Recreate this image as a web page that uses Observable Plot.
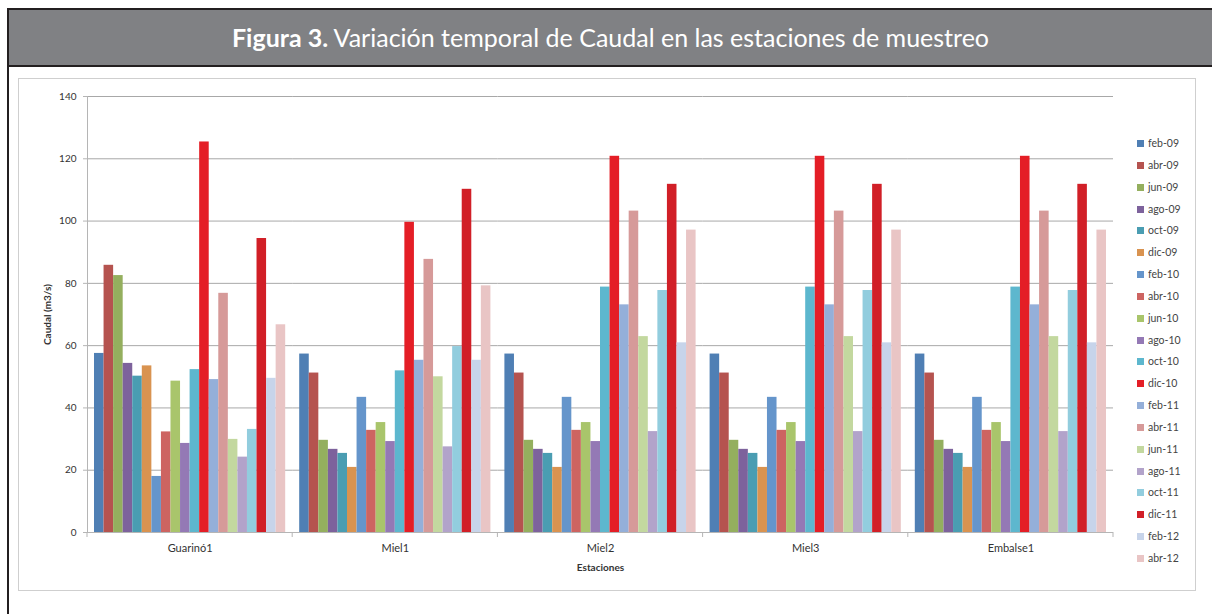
<!DOCTYPE html>
<html>
<head>
<meta charset="utf-8">
<script src="https://cdn.jsdelivr.net/npm/d3@7"></script>
<script src="https://cdn.jsdelivr.net/npm/@observablehq/plot@0.6"></script>
<style>
  body { margin: 0; background: #fff; }
  #page { position: relative; width: 1212px; height: 614px; overflow: hidden; background: #fff; font-family: Lato, "Open Sans", sans-serif; }
  #topline { position: absolute; left: 7px; top: 8px; right: 0; height: 2px; background: #231f20; }
  #leftline { position: absolute; left: 7px; top: 8px; width: 2px; bottom: 0; background: #231f20; }
  #titlebar { position: absolute; left: 9px; top: 10px; right: 0; height: 55px; background: #808184; border-bottom: 2px solid #231f20; color: #fff; font-size: 25px; text-align: center; line-height: 55px; font-family: Lato, "Open Sans", sans-serif; }
  #titlebar b { font-weight: 700; }
  #box { position: absolute; left: 18px; top: 78px; width: 1178px; height: 513px; border: 1px solid #cfcfcf; box-sizing: border-box; }
  #chart { position: absolute; left: 0; top: 78px; }
  #legend { position: absolute; left: 0; top: 0; }
  .li { position: absolute; left: 1137px; font-size: 10.5px; color: #444; white-space: nowrap; line-height: 12px; }
  .li span.sw { display: inline-block; width: 7px; height: 7px; margin-right: 4px; vertical-align: 0px; }
  #chart [aria-label="y-axis label"], #chart [aria-label="fx-axis label"] { font-weight: bold; }
  #chart [aria-label="fx-axis tick label"] { font-size: 11px; }
</style>
</head>
<body>
<div id="page">
  <div id="titlebar"><b>Figura 3.</b> Variación temporal de Caudal en las estaciones de muestreo</div>
  <div id="topline"></div>
  <div id="leftline"></div>
  <div id="box"></div>
  <div id="chart"></div>
  <div id="legend"></div>
</div>
<script>
const stations = ["Guarinó1", "Miel1", "Miel2", "Miel3", "Embalse1"];
const months = ["feb-09","abr-09","jun-09","ago-09","oct-09","dic-09","feb-10","abr-10","jun-10","ago-10","oct-10","dic-10","feb-11","abr-11","jun-11","ago-11","oct-11","dic-11","feb-12","abr-12"];
const colors = ["#4F7FB4","#B5534F","#94AF5E","#7D629C","#4A9DB2","#D99350","#6595CB","#CD6461","#A9C56B","#9479B5","#5DB7CE","#E41E26","#94AFD9","#D69A99","#C3D89F","#B2A3CA","#92CDDE","#D11F27","#C7D4EA","#E9C5C5"];
const guarino1 = [57.5, 85.8, 82.5, 54.3, 50.2, 53.5, 18.0, 32.3, 48.6, 28.6, 52.3, 125.4, 49.1, 76.8, 29.9, 24.2, 33.1, 94.4, 49.5, 66.7];
const miel1    = [57.3, 51.2, 29.6, 26.7, 25.4, 20.9, 43.4, 32.8, 35.3, 29.2, 51.9, 99.6, 55.3, 87.7, 50.0, 27.5, 59.7, 110.2, 55.3, 79.2];
const miel2    = [57.3, 51.2, 29.6, 26.7, 25.4, 20.9, 43.4, 32.8, 35.3, 29.2, 78.8, 120.8, 73.1, 103.2, 62.9, 32.4, 77.7, 111.8, 60.9, 97.1];
const miel3    = [57.3, 51.2, 29.6, 26.7, 25.4, 20.9, 43.4, 32.8, 35.3, 29.2, 78.8, 120.8, 73.1, 103.2, 62.9, 32.4, 77.7, 111.8, 60.9, 97.1];
const embalse1 = [57.3, 51.2, 29.6, 26.7, 25.4, 20.9, 43.4, 32.8, 35.3, 29.2, 78.8, 120.8, 73.1, 103.2, 62.9, 32.4, 77.7, 111.8, 60.9, 97.1];
const yTicks = [0, 20, 40, 60, 80, 100, 120, 140];

const series = [guarino1, miel1, miel2, miel3, embalse1];
const data = [];
stations.forEach((s, i) => months.forEach((m, j) => data.push({station: s, month: m, value: series[i][j]})));

const chart = Plot.plot({
  width: 1212,
  height: 514,
  marginLeft: 87,
  marginRight: 99,
  marginTop: 18,
  marginBottom: 60,
  style: {fontFamily: "Lato, 'Open Sans', sans-serif", fontSize: "10px", color: "#333", background: "transparent", overflow: "visible"},
  fx: {domain: stations, padding: 0, round: false, label: null},
  x: {domain: months, padding: 0, round: false, insetLeft: 7, insetRight: 7, axis: null},
  y: {domain: [0, 140], ticks: yTicks},
  color: {domain: months, range: colors},
  marks: [
    Plot.gridY(yTicks, {stroke: "#a8a8a8", strokeOpacity: 1}),
    Plot.barY(data, {fx: "station", x: "month", y: "value", fill: "month", inset: 0}),
    Plot.ruleY([0], {stroke: "#b5b5b5"}),
    Plot.frame({anchor: "left", facetAnchor: "left", stroke: "#b5b5b5"}),
    Plot.axisY(yTicks, {tickSize: 4, tickPadding: 7, stroke: "#b5b5b5", fill: "#333", label: "Caudal (m3/s)", labelArrow: false, labelAnchor: "center", labelOffset: 44}),
    Plot.axisFx({anchor: "bottom", tickSize: 0, tickPadding: 12, fill: "#333", label: "Estaciones", labelArrow: false, labelAnchor: "center", labelOffset: 38})
  ]
});
document.getElementById("chart").appendChild(chart);

// boundary ticks on the category axis (Excel style), from the Plot fx scale
const fx = chart.scale("fx");
const y = chart.scale("y");
const y0 = y.apply(0);
const bounds = stations.map(s => fx.apply(s)).concat([fx.range[1]]);
d3.select(chart).append("g").selectAll("line").data(bounds).join("line")
  .attr("x1", d => d).attr("x2", d => d)
  .attr("y1", y0).attr("y2", y0 + 5)
  .attr("stroke", "#b5b5b5");

// legend
const legend = d3.select("#legend");
const step = 21.84;
months.forEach((m, i) => {
  const row = legend.append("div").attr("class", "li").style("top", (137 + i * step) + "px");
  row.append("span").attr("class", "sw").style("background", colors[i]);
  row.append("span").text(m);
});
</script>
</body>
</html>
